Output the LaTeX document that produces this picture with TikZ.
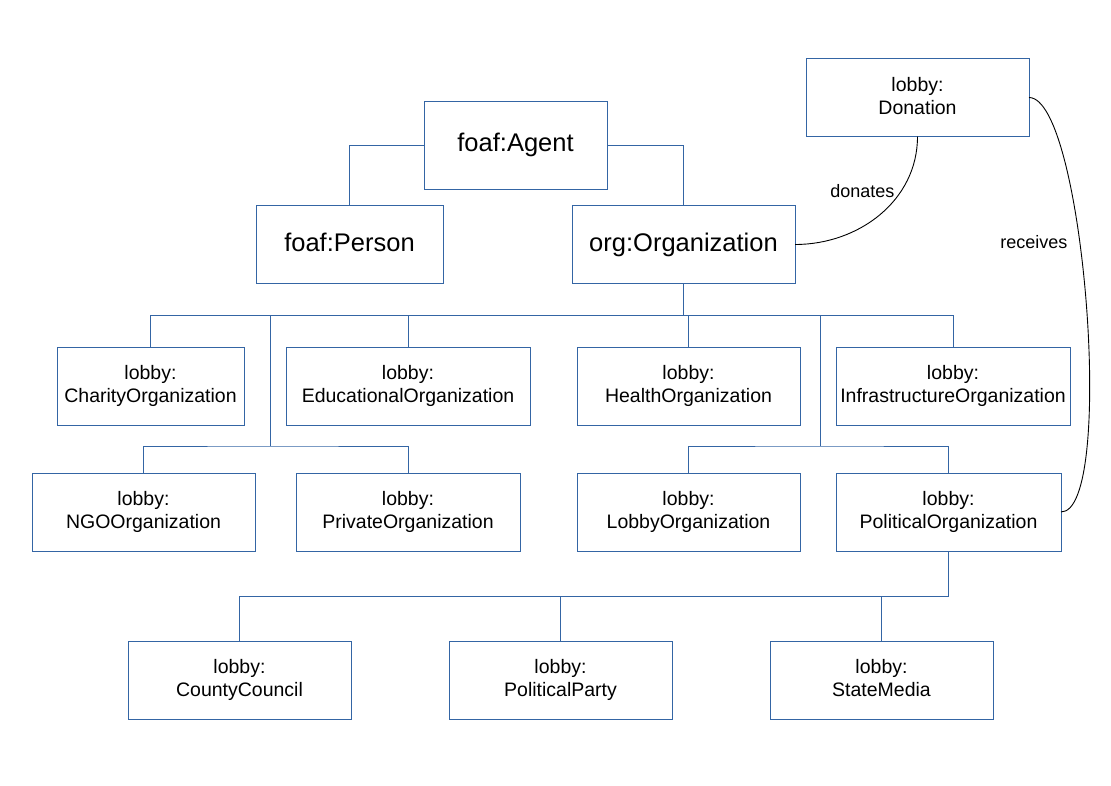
\documentclass[tikz,border=0pt]{standalone}
\usepackage{fontspec}
\setmainfont{Liberation Sans}
\usepackage{tikz}
\usetikzlibrary{positioning}
\definecolor{lineblue}{HTML}{3465A4}

\begin{document}
\begin{tikzpicture}[x=1pt,y=1pt,
      class node/.style={draw=lineblue,line width=1pt,fill=white,align=center,inner sep=0pt,outer sep=0pt,
        minimum width=223pt,minimum height=78pt,font=\fontsize{19.5}{23}\selectfont,
        execute at end node=\vphantom{g}},
      top node/.style={class node,font=\fontsize{25.5}{30}\selectfont},
      tree/.style={draw=lineblue,line width=1pt},
      link/.style={draw=black,line width=0.9pt},
      link label/.style={font=\fontsize{18}{21}\selectfont}]
      \useasboundingbox (0,0) rectangle (1111,-785);

      % top of the hierarchy
      \node[top node,minimum width=183pt,minimum height=88pt] (agent) at (515.5,-145) {foaf:Agent};
      \node[top node,minimum width=187pt] (person) at (349.5,-244.5) {foaf:Person};
      \node[top node] (org) [right=129pt of person] {org:Organization};
      \node[class node] (donation) at (917.5,-97.5) {lobby:\\Donation};

      % first row of organizations
      \node[class node,minimum width=187pt] (charity) at (150.5,-386) {lobby:\\CharityOrganization};
      \node[class node,minimum width=244pt] (educational) [right=42pt of charity] {lobby:\\EducationalOrganization};
      \node[class node] (health) [right=47pt of educational] {lobby:\\HealthOrganization};
      \node[class node,minimum width=234pt] (infra) [right=36pt of health] {lobby:\\InfrastructureOrganization};

      % second row
      \node[class node] (ngo) at (143.5,-512) {lobby:\\NGOOrganization};
      \node[class node,minimum width=224pt] (private) [right=41pt of ngo] {lobby:\\PrivateOrganization};
      \node[class node] (lobbyorg) [right=57pt of private] {lobby:\\LobbyOrganization};
      \node[class node,minimum width=225pt] (political) [right=36pt of lobbyorg] {lobby:\\PoliticalOrganization};

      % political subclasses
      \node[class node] (county) at (239.5,-680) {lobby:\\CountyCouncil};
      \node[class node] (party) [right=98pt of county] {lobby:\\PoliticalParty};
      \node[class node] (media) [right=98pt of party] {lobby:\\StateMedia};

      \coordinate (leftfork) at (270,-446);
      \coordinate (rightfork) at (820.5,-446);

      % tree lines
      \draw[tree] (agent.west) -| (person.north);
      \draw[tree] (agent.east) -| (org.north);
      \draw[tree] (org.south) -- ++(0,-32) coordinate (hub);
      \draw[tree] (charity.north) |- (hub) -| (infra.north);
      \draw[tree] (educational.north) -- (educational.north |- hub);
      \draw[tree] (health.north) -- (health.north |- hub);
      \draw[tree] (leftfork) -- (leftfork |- hub);
      \draw[tree] (rightfork) -- (rightfork |- hub);
      \draw[tree] (ngo.north) |- (leftfork) -| (private.north);
      \draw[tree] (lobbyorg.north) |- (rightfork) -| (political.north);
      \draw[tree] (political.south) -- ++(0,-45) coordinate (lowhub);
      \draw[tree] (county.north) |- (lowhub);
      \draw[tree] (party.north) -- (party.north |- lowhub);
      \draw[tree] (media.north) -- (media.north |- lowhub);

      % donation links
      \path[link]
        (donation.south) edge [out=-90,in=0] node[link label,pos=0.35,left,yshift=4pt] (donates) {donates} (org.east)
        (donation.east) edge [out=0,in=0,looseness=0.34] node[link label,pos=0.39,left,xshift=-8pt,yshift=-5pt] (receives) {receives} (political.east);
\end{tikzpicture}
\end{document}
